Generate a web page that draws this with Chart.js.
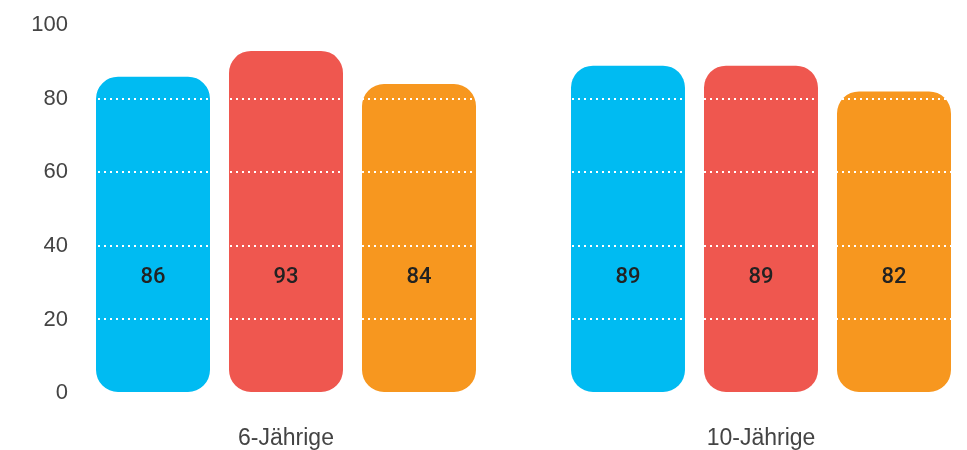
<!DOCTYPE html>
<html>
<head>
<meta charset="utf-8">
<script src="https://cdn.jsdelivr.net/npm/chart.js@4/dist/chart.umd.min.js"></script>
<style>
  body { margin: 0; background: #fff; }
</style>
</head>
<body>
<canvas id="chart" width="967" height="450"></canvas>
<script>
const categories = ['6-Jährige', '10-Jährige'];
const seriesA = [86, 89];
const seriesB = [93, 89];
const seriesC = [84, 82];
const yTicks = [0, 20, 40, 60, 80, 100];
const colors = ['#00BBF2', '#EF574F', '#F7971F'];
const labelLevel = 31.5;

const toPoints = arr => arr.map((v, i) => ({ x: i, y: v }));

const valueLabels = {
  id: 'valueLabels',
  afterDraw(chart) {
    const ctx = chart.ctx;
    const y = chart.scales.y.getPixelForValue(labelLevel);
    ctx.save();
    ctx.font = '500 22px Roboto, "Liberation Sans", Arial, sans-serif';
    ctx.fillStyle = '#222';
    ctx.textAlign = 'center';
    ctx.textBaseline = 'middle';
    chart.data.datasets.forEach((ds, i) => {
      chart.getDatasetMeta(i).data.forEach((bar, j) => {
        ctx.fillText(ds.data[j].y, bar.x, y);
      });
    });
    ctx.restore();
  }
};

new Chart(document.getElementById('chart').getContext('2d'), {
  type: 'bar',
  data: {
    datasets: [seriesA, seriesB, seriesC].map((s, i) => ({
      data: toPoints(s),
      backgroundColor: colors[i],
      borderRadius: 22,
      borderSkipped: false,
      categoryPercentage: 0.84,
      barPercentage: 0.857
    }))
  },
  options: {
    responsive: false,
    animation: false,
    layout: { padding: { top: 7, right: 0, bottom: 0, left: 0 } },
    plugins: { legend: { display: false }, tooltip: { enabled: false } },
    scales: {
      x: {
        type: 'linear',
        offset: false,
        min: -0.4337,
        max: 1.4337,
        afterFit: s => { s.height = 57; },
        grid: { display: false, drawTicks: false },
        border: { display: false },
        afterBuildTicks: s => { s.ticks = categories.map((c, i) => ({ value: i })); },
        ticks: {
          padding: 32,
          maxRotation: 0,
          autoSkip: false,
          color: '#444',
          font: { family: '"Liberation Sans", Arial, sans-serif', size: 23 },
          callback: v => categories[v]
        }
      },
      y: {
        min: 0,
        max: 100,
        afterFit: s => { s.width = 80; },
        afterBuildTicks: s => { s.ticks = yTicks.map(v => ({ value: v })); },
        grid: { color: '#ffffff', lineWidth: 2, drawTicks: false, z: 1 },
        border: { display: false, dash: [2, 4] },
        ticks: {
          padding: 12,
          color: '#444',
          font: { family: '"Liberation Sans", Arial, sans-serif', size: 22 }
        }
      }
    }
  },
  plugins: [valueLabels]
});
</script>
</body>
</html>
